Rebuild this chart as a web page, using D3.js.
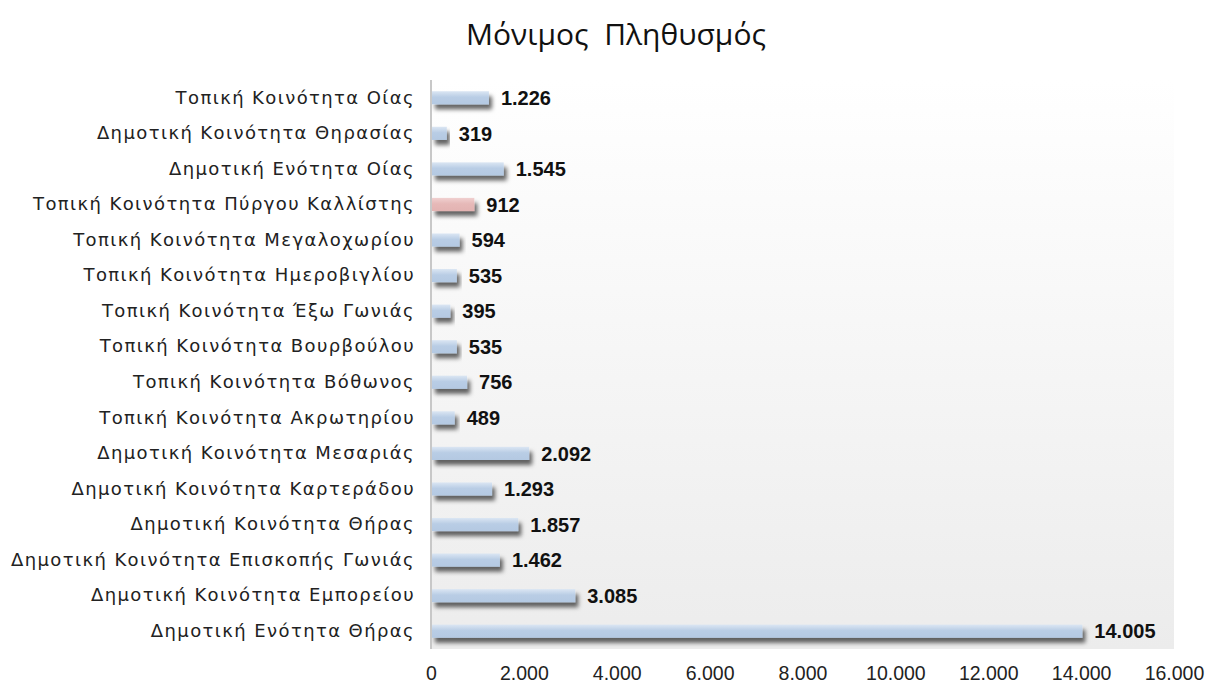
<!DOCTYPE html>
<html>
<head>
<meta charset="utf-8">
<script src="https://cdn.jsdelivr.net/npm/d3@7"></script>
<style>
  body { margin: 0; background: #fff; }
  svg { display: block; }
</style>
</head>
<body>
<svg id="chart" width="1212" height="687"></svg>
<script>
const title = "Μόνιμος  Πληθυσμός";

const categories = [
  "Τοπική Κοινότητα Οίας",
  "Δημοτική Κοινότητα Θηρασίας",
  "Δημοτική Ενότητα Οίας",
  "Τοπική Κοινότητα Πύργου Καλλίστης",
  "Τοπική Κοινότητα Μεγαλοχωρίου",
  "Τοπική Κοινότητα Ημεροβιγλίου",
  "Τοπική Κοινότητα Έξω Γωνιάς",
  "Τοπική Κοινότητα Βουρβούλου",
  "Τοπική Κοινότητα Βόθωνος",
  "Τοπική Κοινότητα Ακρωτηρίου",
  "Δημοτική Κοινότητα Μεσαριάς",
  "Δημοτική Κοινότητα Καρτεράδου",
  "Δημοτική Κοινότητα Θήρας",
  "Δημοτική Κοινότητα Επισκοπής Γωνιάς",
  "Δημοτική Κοινότητα Εμπορείου",
  "Δημοτική Ενότητα Θήρας"
];

const population = [1226, 319, 1545, 912, 594, 535, 395, 535, 756, 489, 2092, 1293, 1857, 1462, 3085, 14005];

const highlighted = ["Τοπική Κοινότητα Πύργου Καλλίστης"];

const xTicks = [0, 2000, 4000, 6000, 8000, 10000, 12000, 14000, 16000];

const data = categories.map((c, i) => ({name: c, value: population[i]}));

const locale = d3.formatLocale({decimal: ",", thousands: ".", grouping: [3], currency: ["", "€"]});
const fmt = locale.format(",d");

const margin = {top: 80, left: 431, bottom: 38, right: 38};
const width = 1212;
const height = 687;
const innerWidth = width - margin.left - margin.right;
const innerHeight = height - margin.top - margin.bottom;

const svg = d3.select("#chart");
const defs = svg.append("defs");

const bg = defs.append("linearGradient").attr("id", "bg")
  .attr("x1", 0).attr("y1", 0).attr("x2", 0).attr("y2", 1);
bg.append("stop").attr("offset", "0%").attr("stop-color", "#ffffff");
bg.append("stop").attr("offset", "100%").attr("stop-color", "#ececec");

const blue = defs.append("linearGradient").attr("id", "blueBar")
  .attr("x1", 0).attr("y1", 0).attr("x2", 0).attr("y2", 1);
blue.append("stop").attr("offset", "0%").attr("stop-color", "#dbe6f3");
blue.append("stop").attr("offset", "45%").attr("stop-color", "#b9cde5");
blue.append("stop").attr("offset", "100%").attr("stop-color", "#b4c9e2");

const pink = defs.append("linearGradient").attr("id", "pinkBar")
  .attr("x1", 0).attr("y1", 0).attr("x2", 0).attr("y2", 1);
pink.append("stop").attr("offset", "0%").attr("stop-color", "#f0d0d0");
pink.append("stop").attr("offset", "45%").attr("stop-color", "#e6b9b8");
pink.append("stop").attr("offset", "100%").attr("stop-color", "#e3b3b2");

const shadow = defs.append("filter").attr("id", "shadow")
  .attr("x", "-10%").attr("y", "-50%").attr("width", "130%").attr("height", "250%");
shadow.append("feDropShadow")
  .attr("dx", 3).attr("dy", 5).attr("stdDeviation", 2)
  .attr("flood-color", "#000").attr("flood-opacity", 0.6);

svg.append("text")
  .attr("x", 616)
  .attr("y", 45)
  .attr("text-anchor", "middle")
  .attr("font-family", "'Open Sans', 'DejaVu Sans', sans-serif")
  .attr("font-size", 30)
  .attr("fill", "#111")
  .style("white-space", "pre")
  .text(title);

const g = svg.append("g")
  .attr("transform", `translate(${margin.left}, ${margin.top})`);

const xScale = d3.scaleLinear()
  .domain([0, 16000])
  .range([0, innerWidth]);

const yScale = d3.scaleBand()
  .domain(categories)
  .range([0, innerHeight])
  .paddingInner(0.63)
  .paddingOuter(0.315);

g.append("rect")
  .attr("x", 0)
  .attr("y", 0)
  .attr("width", innerWidth)
  .attr("height", innerHeight)
  .attr("fill", "url(#bg)");

g.selectAll("rect.bar")
  .data(data)
  .enter()
  .append("rect")
  .attr("class", "bar")
  .attr("x", 1)
  .attr("y", (d) => yScale(d.name))
  .attr("width", (d) => xScale(d.value))
  .attr("height", yScale.bandwidth())
  .attr("fill", (d) => highlighted.includes(d.name) ? "url(#pinkBar)" : "url(#blueBar)")
  .attr("filter", "url(#shadow)");

g.selectAll("text.value")
  .data(data)
  .enter()
  .append("text")
  .attr("class", "value")
  .attr("x", (d) => xScale(d.value) + 13)
  .attr("y", (d) => yScale(d.name) + yScale.bandwidth() / 2)
  .attr("dy", "0.36em")
  .attr("font-family", "'Liberation Sans', Arial, sans-serif")
  .attr("font-weight", "bold")
  .attr("font-size", 20)
  .attr("fill", "#111")
  .text((d) => fmt(d.value));

const yAxis = d3.axisLeft(yScale).tickSize(0).tickPadding(16);
const yAxisGroup = g.append("g").attr("class", "yaxis").call(yAxis);
yAxisGroup.select(".domain").remove();
yAxisGroup.selectAll("text")
  .attr("font-family", "'DejaVu Sans', sans-serif")
  .attr("font-size", 18)
  .attr("letter-spacing", 1.4)
  .attr("fill", "#222");

g.append("line")
  .attr("x1", 0).attr("x2", 0)
  .attr("y1", 0).attr("y2", innerHeight)
  .attr("stroke", "#c8c8c8")
  .attr("stroke-width", 2);

const xAxis = d3.axisBottom(xScale)
  .tickValues(xTicks)
  .tickSize(0)
  .tickPadding(17)
  .tickFormat(fmt);
const xAxisGroup = g.append("g").attr("class", "xaxis")
  .attr("transform", `translate(0, ${innerHeight})`)
  .call(xAxis);
xAxisGroup.select(".domain").remove();
xAxisGroup.selectAll("text")
  .attr("font-family", "'Liberation Sans', Arial, sans-serif")
  .attr("font-size", 19.5)
  .attr("fill", "#222");
</script>
</body>
</html>
